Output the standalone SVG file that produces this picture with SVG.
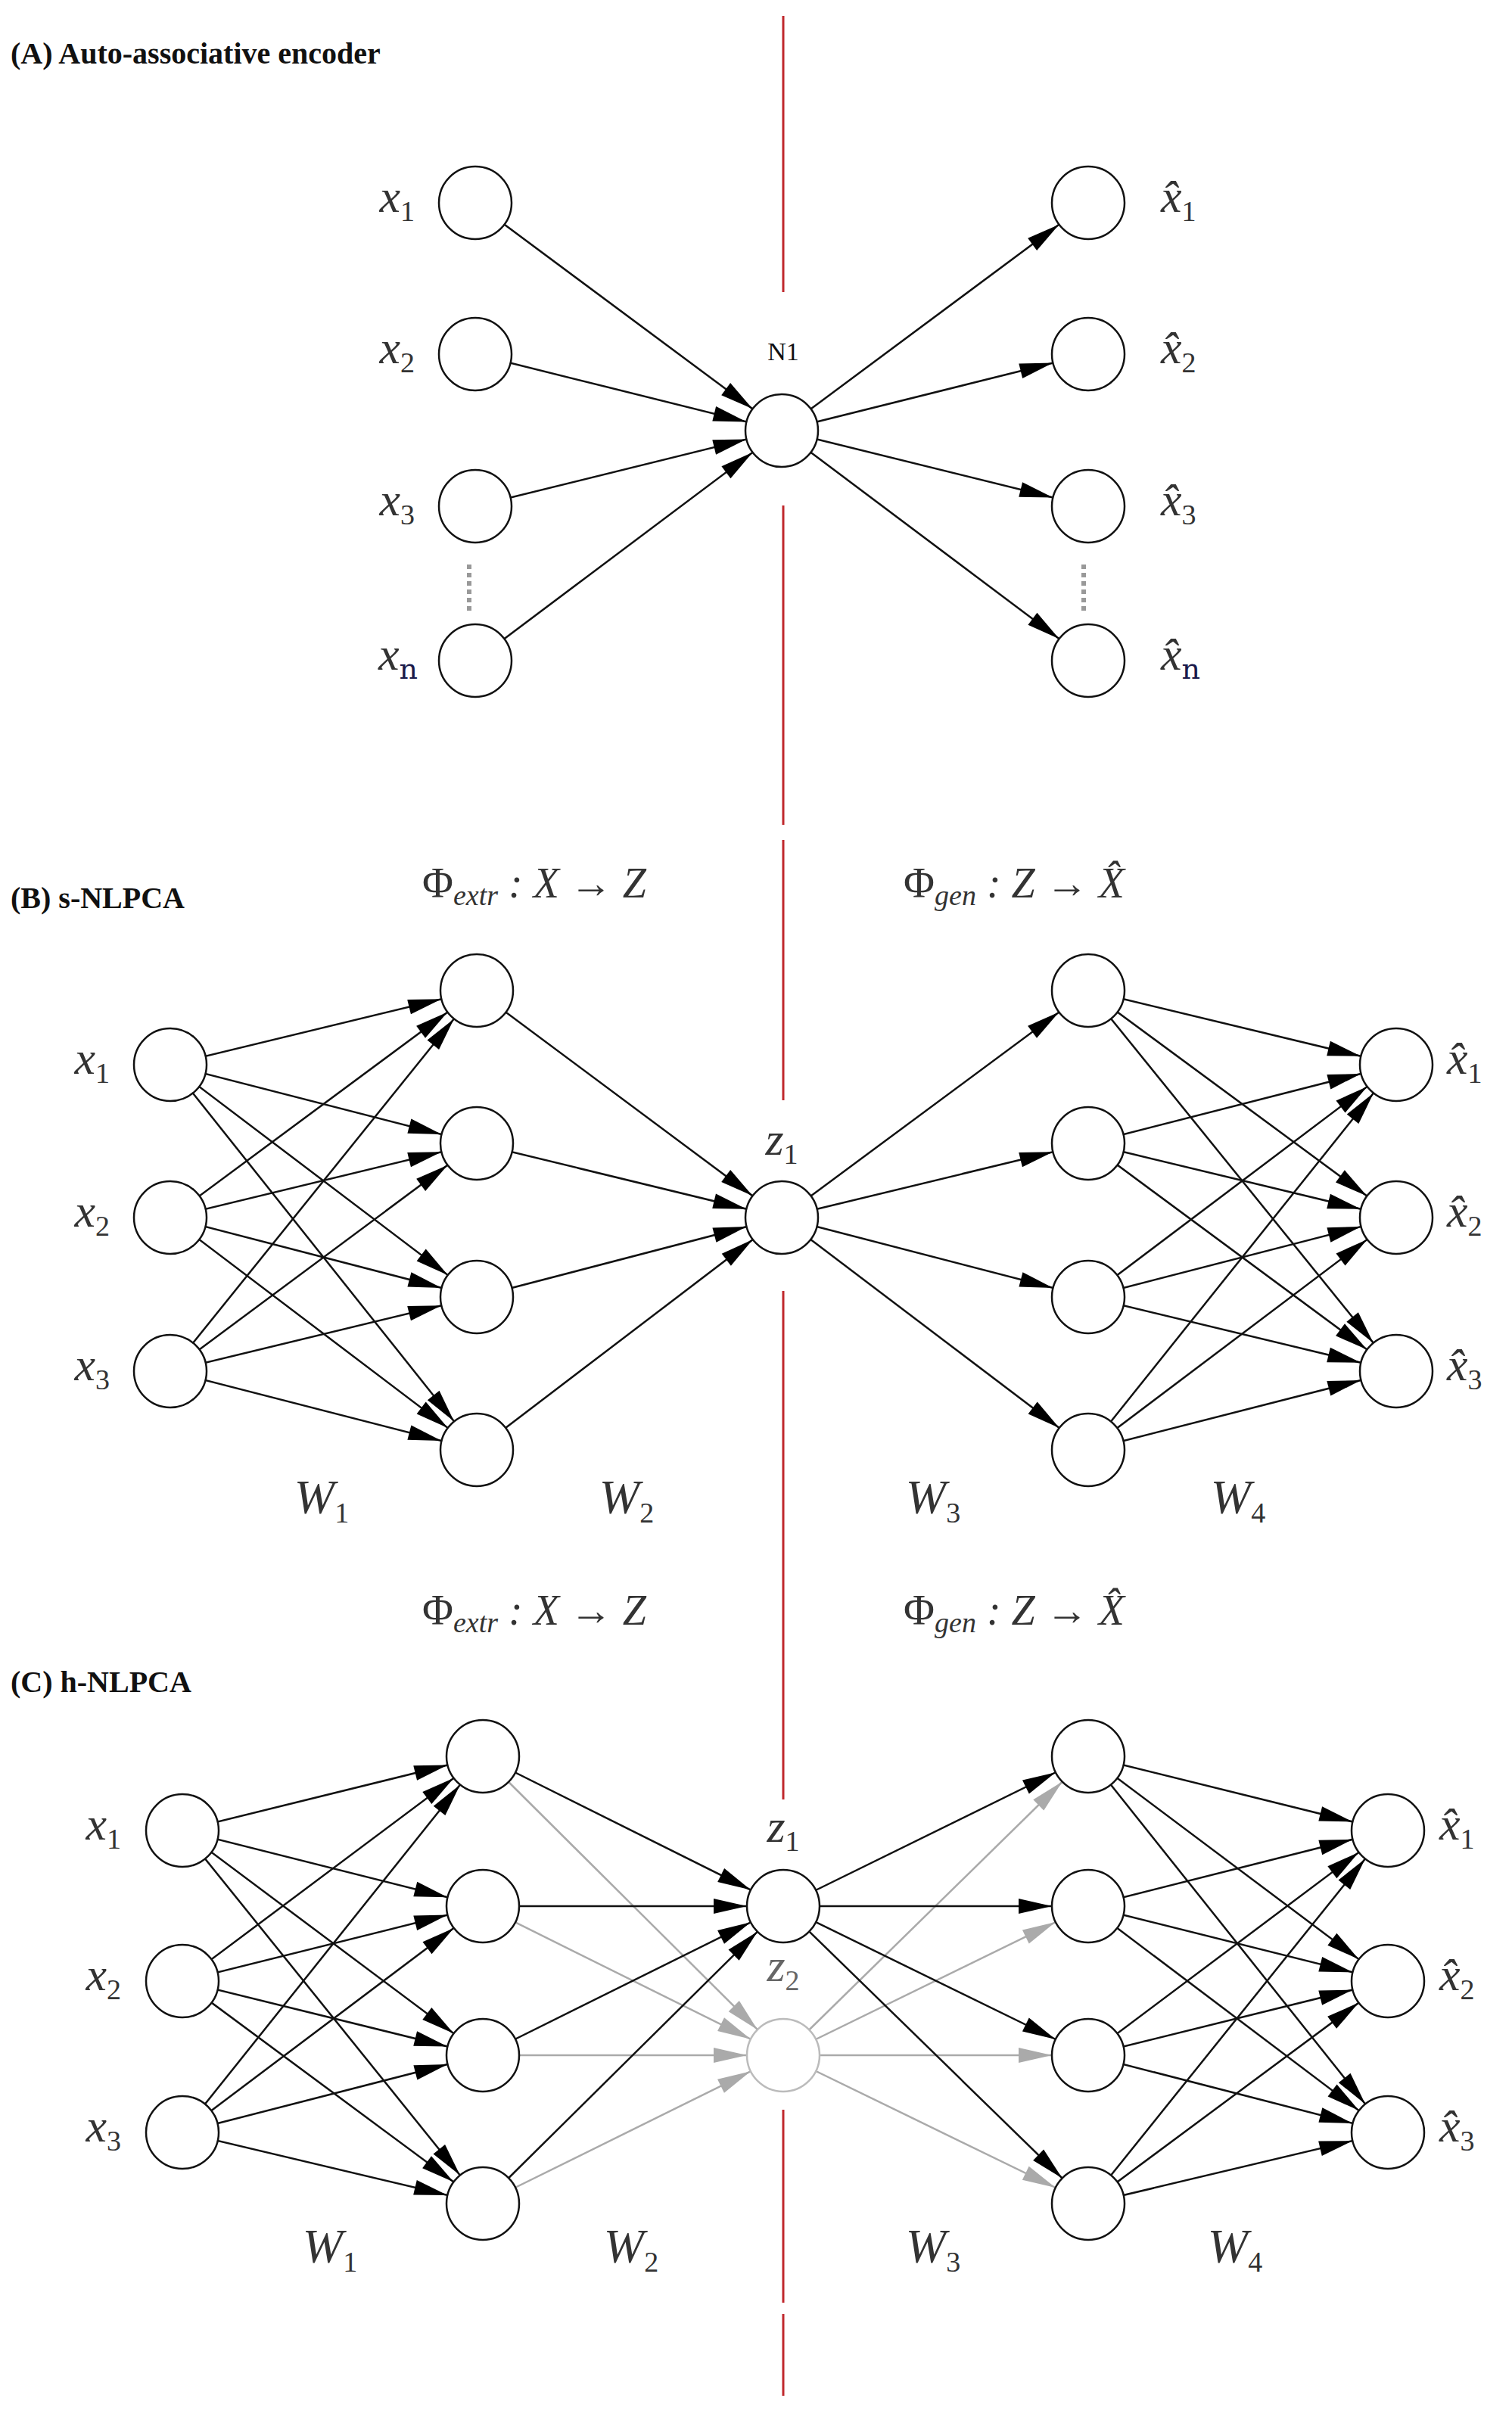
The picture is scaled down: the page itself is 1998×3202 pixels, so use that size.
<svg xmlns="http://www.w3.org/2000/svg" width="1998" height="3202" viewBox="0 0 1998 3202">
<style>
.n{fill:#fff;stroke:#111;stroke-width:2.5}
.ng{fill:#fff;stroke:#bbb;stroke-width:2.5}
.e{stroke:#111;stroke-width:2.5;fill:none;marker-end:url(#ah)}
.eg{stroke:#aaa;stroke-width:2.5;fill:none;marker-end:url(#ahg)}
.red{stroke:#c0282d;stroke-width:3}
.m{font-family:"Liberation Serif","DejaVu Serif",serif;font-style:italic;font-size:62px;fill:#333}
.s{font-size:38px;font-style:normal}
.t{font-family:"Liberation Serif",serif;font-weight:bold;font-size:40px;fill:#111}
.w{font-family:"Liberation Serif","DejaVu Serif",serif;font-style:italic;font-size:64px;fill:#333}
.up{font-style:normal}
</style>
<defs>
<marker id="ah" markerUnits="userSpaceOnUse" markerWidth="44" markerHeight="20" refX="92" refY="10" orient="auto" overflow="visible"><path d="M0,0 L44,10 L0,20 z" fill="#000"/></marker>
<marker id="ahg" markerUnits="userSpaceOnUse" markerWidth="44" markerHeight="20" refX="92" refY="10" orient="auto" overflow="visible"><path d="M0,0 L44,10 L0,20 z" fill="#aaa"/></marker>
</defs>
<rect width="1998" height="3202" fill="#fff"/>
<g id="divider">
<line class="red" x1="1035" y1="21" x2="1035" y2="386"/>
<line class="red" x1="1035" y1="668" x2="1035" y2="1090"/>
<line class="red" x1="1035" y1="1110" x2="1035" y2="1454"/>
<line class="red" x1="1035" y1="1706" x2="1035" y2="2378"/>
<line class="red" x1="1035" y1="2788" x2="1035" y2="3043"/>
<line class="red" x1="1035" y1="3058" x2="1035" y2="3166"/>
</g>
<g id="connectors">
<line class="e" x1="628" y1="268" x2="1033" y2="569"/>
<line class="e" x1="628" y1="468" x2="1033" y2="569"/>
<line class="e" x1="628" y1="669" x2="1033" y2="569"/>
<line class="e" x1="628" y1="873" x2="1033" y2="569"/>
<line class="e" x1="1033" y1="569" x2="1438" y2="268"/>
<line class="e" x1="1033" y1="569" x2="1438" y2="468"/>
<line class="e" x1="1033" y1="569" x2="1438" y2="669"/>
<line class="e" x1="1033" y1="569" x2="1438" y2="873"/>
<line class="e" x1="225" y1="1407" x2="630" y2="1309"/>
<line class="e" x1="225" y1="1407" x2="630" y2="1511"/>
<line class="e" x1="225" y1="1407" x2="630" y2="1714"/>
<line class="e" x1="225" y1="1407" x2="630" y2="1916"/>
<line class="e" x1="225" y1="1609" x2="630" y2="1309"/>
<line class="e" x1="225" y1="1609" x2="630" y2="1511"/>
<line class="e" x1="225" y1="1609" x2="630" y2="1714"/>
<line class="e" x1="225" y1="1609" x2="630" y2="1916"/>
<line class="e" x1="225" y1="1812" x2="630" y2="1309"/>
<line class="e" x1="225" y1="1812" x2="630" y2="1511"/>
<line class="e" x1="225" y1="1812" x2="630" y2="1714"/>
<line class="e" x1="225" y1="1812" x2="630" y2="1916"/>
<line class="e" x1="630" y1="1309" x2="1033" y2="1609"/>
<line class="e" x1="630" y1="1511" x2="1033" y2="1609"/>
<line class="e" x1="630" y1="1714" x2="1033" y2="1609"/>
<line class="e" x1="630" y1="1916" x2="1033" y2="1609"/>
<line class="e" x1="1033" y1="1609" x2="1438" y2="1309"/>
<line class="e" x1="1033" y1="1609" x2="1438" y2="1511"/>
<line class="e" x1="1033" y1="1609" x2="1438" y2="1714"/>
<line class="e" x1="1033" y1="1609" x2="1438" y2="1916"/>
<line class="e" x1="1438" y1="1309" x2="1845" y2="1407"/>
<line class="e" x1="1438" y1="1309" x2="1845" y2="1609"/>
<line class="e" x1="1438" y1="1309" x2="1845" y2="1812"/>
<line class="e" x1="1438" y1="1511" x2="1845" y2="1407"/>
<line class="e" x1="1438" y1="1511" x2="1845" y2="1609"/>
<line class="e" x1="1438" y1="1511" x2="1845" y2="1812"/>
<line class="e" x1="1438" y1="1714" x2="1845" y2="1407"/>
<line class="e" x1="1438" y1="1714" x2="1845" y2="1609"/>
<line class="e" x1="1438" y1="1714" x2="1845" y2="1812"/>
<line class="e" x1="1438" y1="1916" x2="1845" y2="1407"/>
<line class="e" x1="1438" y1="1916" x2="1845" y2="1609"/>
<line class="e" x1="1438" y1="1916" x2="1845" y2="1812"/>
<line class="e" x1="241" y1="2419" x2="638" y2="2321"/>
<line class="e" x1="241" y1="2419" x2="638" y2="2519"/>
<line class="e" x1="241" y1="2419" x2="638" y2="2716"/>
<line class="e" x1="241" y1="2419" x2="638" y2="2912"/>
<line class="e" x1="241" y1="2618" x2="638" y2="2321"/>
<line class="e" x1="241" y1="2618" x2="638" y2="2519"/>
<line class="e" x1="241" y1="2618" x2="638" y2="2716"/>
<line class="e" x1="241" y1="2618" x2="638" y2="2912"/>
<line class="e" x1="241" y1="2818" x2="638" y2="2321"/>
<line class="e" x1="241" y1="2818" x2="638" y2="2519"/>
<line class="e" x1="241" y1="2818" x2="638" y2="2716"/>
<line class="e" x1="241" y1="2818" x2="638" y2="2912"/>
<line class="eg" x1="638" y1="2321" x2="1035" y2="2716"/>
<line class="eg" x1="638" y1="2519" x2="1035" y2="2716"/>
<line class="eg" x1="638" y1="2716" x2="1035" y2="2716"/>
<line class="eg" x1="638" y1="2912" x2="1035" y2="2716"/>
<line class="eg" x1="1035" y1="2716" x2="1438" y2="2321"/>
<line class="eg" x1="1035" y1="2716" x2="1438" y2="2519"/>
<line class="eg" x1="1035" y1="2716" x2="1438" y2="2716"/>
<line class="eg" x1="1035" y1="2716" x2="1438" y2="2912"/>
<line class="e" x1="638" y1="2321" x2="1035" y2="2519"/>
<line class="e" x1="638" y1="2519" x2="1035" y2="2519"/>
<line class="e" x1="638" y1="2716" x2="1035" y2="2519"/>
<line class="e" x1="638" y1="2912" x2="1035" y2="2519"/>
<line class="e" x1="1035" y1="2519" x2="1438" y2="2321"/>
<line class="e" x1="1035" y1="2519" x2="1438" y2="2519"/>
<line class="e" x1="1035" y1="2519" x2="1438" y2="2716"/>
<line class="e" x1="1035" y1="2519" x2="1438" y2="2912"/>
<line class="e" x1="1438" y1="2321" x2="1834" y2="2419"/>
<line class="e" x1="1438" y1="2321" x2="1834" y2="2618"/>
<line class="e" x1="1438" y1="2321" x2="1834" y2="2818"/>
<line class="e" x1="1438" y1="2519" x2="1834" y2="2419"/>
<line class="e" x1="1438" y1="2519" x2="1834" y2="2618"/>
<line class="e" x1="1438" y1="2519" x2="1834" y2="2818"/>
<line class="e" x1="1438" y1="2716" x2="1834" y2="2419"/>
<line class="e" x1="1438" y1="2716" x2="1834" y2="2618"/>
<line class="e" x1="1438" y1="2716" x2="1834" y2="2818"/>
<line class="e" x1="1438" y1="2912" x2="1834" y2="2419"/>
<line class="e" x1="1438" y1="2912" x2="1834" y2="2618"/>
<line class="e" x1="1438" y1="2912" x2="1834" y2="2818"/>
<line x1="620" y1="746" x2="620" y2="808" stroke="#999" stroke-width="6" stroke-dasharray="6,5"/>
<line x1="1432" y1="746" x2="1432" y2="808" stroke="#999" stroke-width="6" stroke-dasharray="6,5"/>
</g>
<g id="panelA">
<text class="t" x="14" y="84">(A)  Auto-associative encoder</text>
<g id="a_in1"><circle class="n" cx="628" cy="268" r="48"/><text class="m" x="548" y="280" text-anchor="end">x<tspan class="s" dy="12">1</tspan></text></g>
<g id="a_in2"><circle class="n" cx="628" cy="468" r="48"/><text class="m" x="548" y="480" text-anchor="end">x<tspan class="s" dy="12">2</tspan></text></g>
<g id="a_in3"><circle class="n" cx="628" cy="669" r="48"/><text class="m" x="548" y="681" text-anchor="end">x<tspan class="s" dy="12">3</tspan></text></g>
<g id="a_inn"><circle class="n" cx="628" cy="873" r="48"/><text class="m" x="552" y="885" text-anchor="end">x<tspan class="s" dy="12" style="font-family:'DejaVu Serif',serif;fill:#1a1a4a">n</tspan></text></g>
<g id="a_n1"><circle class="n" cx="1033" cy="569" r="48"/><text x="1035" y="476" text-anchor="middle" style="font-family:'Liberation Serif',serif;font-size:34px;fill:#111">N1</text></g>
<g id="a_out1"><circle class="n" cx="1438" cy="268" r="48"/><text class="m" x="1534" y="280">x̂<tspan class="s" dy="12">1</tspan></text></g>
<g id="a_out2"><circle class="n" cx="1438" cy="468" r="48"/><text class="m" x="1534" y="480">x̂<tspan class="s" dy="12">2</tspan></text></g>
<g id="a_out3"><circle class="n" cx="1438" cy="669" r="48"/><text class="m" x="1534" y="681">x̂<tspan class="s" dy="12">3</tspan></text></g>
<g id="a_outn"><circle class="n" cx="1438" cy="873" r="48"/><text class="m" x="1534" y="885">x̂<tspan class="s" dy="12" style="font-family:'DejaVu Serif',serif;fill:#1a1a4a">n</tspan></text></g>
</g>
<g id="panelB">
<text class="t" x="14" y="1200">(B)  s-NLPCA</text>
<text class="m" x="706" y="1186" text-anchor="middle" style="font-size:56px"><tspan class="up">Φ</tspan><tspan class="s" style="font-style:italic" dy="10">extr</tspan><tspan dy="-10"> : X → Z</tspan></text>
<text class="m" x="1340" y="1186" text-anchor="middle" style="font-size:56px"><tspan class="up">Φ</tspan><tspan class="s" style="font-style:italic" dy="10">gen</tspan><tspan dy="-10"> : Z → X̂</tspan></text>
<g id="b_in1"><circle class="n" cx="225" cy="1407" r="48"/><text class="m" x="145" y="1419" text-anchor="end">x<tspan class="s" dy="12">1</tspan></text></g>
<g id="b_in2"><circle class="n" cx="225" cy="1609" r="48"/><text class="m" x="145" y="1621" text-anchor="end">x<tspan class="s" dy="12">2</tspan></text></g>
<g id="b_in3"><circle class="n" cx="225" cy="1812" r="48"/><text class="m" x="145" y="1824" text-anchor="end">x<tspan class="s" dy="12">3</tspan></text></g>
<g id="b_h1"><circle class="n" cx="630" cy="1309" r="48"/><circle class="n" cx="630" cy="1511" r="48"/><circle class="n" cx="630" cy="1714" r="48"/><circle class="n" cx="630" cy="1916" r="48"/></g>
<g id="b_z1"><circle class="n" cx="1033" cy="1609" r="48"/><text class="m" x="1033" y="1526" text-anchor="middle">z<tspan class="s" dy="12">1</tspan></text></g>
<g id="b_h2"><circle class="n" cx="1438" cy="1309" r="48"/><circle class="n" cx="1438" cy="1511" r="48"/><circle class="n" cx="1438" cy="1714" r="48"/><circle class="n" cx="1438" cy="1916" r="48"/></g>
<g id="b_out1"><circle class="n" cx="1845" cy="1407" r="48"/><text class="m" x="1912" y="1419">x̂<tspan class="s" dy="12">1</tspan></text></g>
<g id="b_out2"><circle class="n" cx="1845" cy="1609" r="48"/><text class="m" x="1912" y="1621">x̂<tspan class="s" dy="12">2</tspan></text></g>
<g id="b_out3"><circle class="n" cx="1845" cy="1812" r="48"/><text class="m" x="1912" y="1824">x̂<tspan class="s" dy="12">3</tspan></text></g>
<text class="w" x="425" y="2000" text-anchor="middle">W<tspan class="s" dy="12">1</tspan></text>
<text class="w" x="828" y="2000" text-anchor="middle">W<tspan class="s" dy="12">2</tspan></text>
<text class="w" x="1233" y="2000" text-anchor="middle">W<tspan class="s" dy="12">3</tspan></text>
<text class="w" x="1636" y="2000" text-anchor="middle">W<tspan class="s" dy="12">4</tspan></text>
</g>
<g id="panelC">
<text class="t" x="14" y="2236">(C)  h-NLPCA</text>
<text class="m" x="706" y="2147" text-anchor="middle" style="font-size:56px"><tspan class="up">Φ</tspan><tspan class="s" style="font-style:italic" dy="10">extr</tspan><tspan dy="-10"> : X → Z</tspan></text>
<text class="m" x="1340" y="2147" text-anchor="middle" style="font-size:56px"><tspan class="up">Φ</tspan><tspan class="s" style="font-style:italic" dy="10">gen</tspan><tspan dy="-10"> : Z → X̂</tspan></text>
<g id="c_in1"><circle class="n" cx="241" cy="2419" r="48"/><text class="m" x="160" y="2431" text-anchor="end">x<tspan class="s" dy="12">1</tspan></text></g>
<g id="c_in2"><circle class="n" cx="241" cy="2618" r="48"/><text class="m" x="160" y="2630" text-anchor="end">x<tspan class="s" dy="12">2</tspan></text></g>
<g id="c_in3"><circle class="n" cx="241" cy="2818" r="48"/><text class="m" x="160" y="2830" text-anchor="end">x<tspan class="s" dy="12">3</tspan></text></g>
<g id="c_h1"><circle class="n" cx="638" cy="2321" r="48"/><circle class="n" cx="638" cy="2519" r="48"/><circle class="n" cx="638" cy="2716" r="48"/><circle class="n" cx="638" cy="2912" r="48"/></g>
<g id="c_z1"><circle class="n" cx="1035" cy="2519" r="48"/><text class="m" x="1035" y="2434" text-anchor="middle">z<tspan class="s" dy="12">1</tspan></text></g>
<g id="c_z2"><circle class="ng" cx="1035" cy="2716" r="48"/><text class="m" x="1035" y="2618" text-anchor="middle" style="fill:#666">z<tspan class="s" dy="12">2</tspan></text></g>
<g id="c_h2"><circle class="n" cx="1438" cy="2321" r="48"/><circle class="n" cx="1438" cy="2519" r="48"/><circle class="n" cx="1438" cy="2716" r="48"/><circle class="n" cx="1438" cy="2912" r="48"/></g>
<g id="c_out1"><circle class="n" cx="1834" cy="2419" r="48"/><text class="m" x="1902" y="2431">x̂<tspan class="s" dy="12">1</tspan></text></g>
<g id="c_out2"><circle class="n" cx="1834" cy="2618" r="48"/><text class="m" x="1902" y="2630">x̂<tspan class="s" dy="12">2</tspan></text></g>
<g id="c_out3"><circle class="n" cx="1834" cy="2818" r="48"/><text class="m" x="1902" y="2830">x̂<tspan class="s" dy="12">3</tspan></text></g>
<text class="w" x="436" y="2990" text-anchor="middle">W<tspan class="s" dy="12">1</tspan></text>
<text class="w" x="834" y="2990" text-anchor="middle">W<tspan class="s" dy="12">2</tspan></text>
<text class="w" x="1233" y="2990" text-anchor="middle">W<tspan class="s" dy="12">3</tspan></text>
<text class="w" x="1632" y="2990" text-anchor="middle">W<tspan class="s" dy="12">4</tspan></text>
</g>
</svg>
